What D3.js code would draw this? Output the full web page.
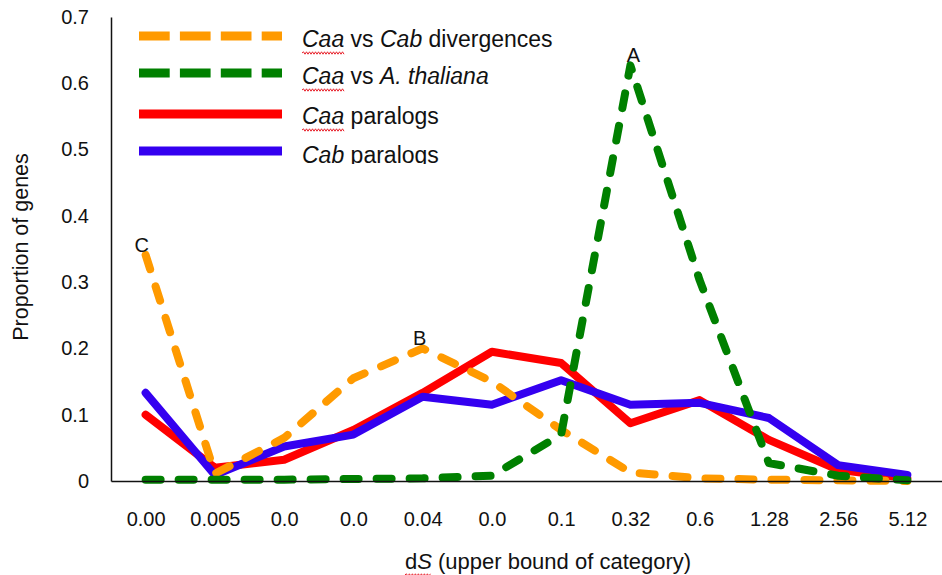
<!DOCTYPE html>
<html lang="en">
<head>
<meta charset="UTF-8">
<title>dS distribution</title>
<script src="https://d3js.org/d3.v7.min.js"></script>
<style>
  body { margin: 0; background: #fff; }
  svg { display: block; font-family: "Liberation Sans", Arial, sans-serif; }
</style>
</head>
<body>
<svg width="942" height="575"></svg>
<script>
// category labels on x (upper bound of dS class)
const categories = ["0.00", "0.005", "0.0", "0.0", "0.04", "0.0", "0.1", "0.32", "0.6", "1.28", "2.56", "5.12"];
const yTicks = [0, 0.1, 0.2, 0.3, 0.4, 0.5, 0.6, 0.7];

// values
const caaVsCab = [0.341, 0.011, 0.065, 0.155, 0.200, 0.150, 0.077, 0.013, 0.004, 0.002, 0.001, 0.000];
const caaVsAt  = [0.002, 0.002, 0.002, 0.003, 0.004, 0.008, 0.070, 0.627, 0.303, 0.027, 0.008, 0.001];
const caaPara  = [0.100, 0.020, 0.032, 0.077, 0.133, 0.195, 0.178, 0.087, 0.122, 0.062, 0.017, 0.004];
const cabPara  = [0.133, 0.009, 0.052, 0.070, 0.127, 0.115, 0.152, 0.115, 0.118, 0.095, 0.024, 0.009];

const series = [
  { name: "caaPara", values: caaPara, color: "#ff0000", dashed: false },
  { name: "cabPara", values: cabPara, color: "#3400f0", dashed: false },
  { name: "caaVsCab", values: caaVsCab, color: "#ff9a00", dashed: true },
  { name: "caaVsAt", values: caaVsAt, color: "#008000", dashed: true }
];

const svg = d3.select("svg");
const plotLeft = 111, plotRight = 942, plotTop = 17, plotBottom = 481;

const x = d3.scalePoint()
  .domain(d3.range(categories.length))
  .range([plotLeft, plotRight])
  .padding(0.5);

const y = d3.scaleLinear()
  .domain([0, 0.7])
  .range([plotBottom, plotTop]);

// lines
const line = d3.line()
  .x((d, i) => x(i))
  .y(d => y(d));

svg.append("g").selectAll("path")
  .data(series)
  .enter().append("path")
  .attr("d", d => line(d.values))
  .attr("fill", "none")
  .attr("stroke", d => d.color)
  .attr("stroke-width", 8)
  .attr("stroke-linejoin", "round")
  .attr("stroke-linecap", "round")
  .attr("stroke-dasharray", d => d.dashed ? "15,18" : null);

// axes
const yAxis = svg.append("g")
  .attr("transform", `translate(${plotLeft},0)`)
  .call(d3.axisLeft(y).tickValues(yTicks).tickSize(0).tickSizeOuter(0).tickPadding(22)
    .tickFormat(d => d === 0 ? "0" : d3.format(".1f")(d)));
yAxis.selectAll("text").attr("font-size", 20).attr("fill", "#111");
yAxis.attr("font-family", null).attr("font-size", null);
yAxis.select(".domain").attr("stroke", "#111").attr("stroke-width", 1.5);

const xAxis = svg.append("g")
  .attr("transform", `translate(0,${plotBottom})`)
  .call(d3.axisBottom(x).tickSize(0).tickSizeOuter(0).tickPadding(31)
    .tickFormat(i => categories[i]));
xAxis.selectAll("text").attr("font-size", 20).attr("fill", "#111");
xAxis.attr("font-family", null).attr("font-size", null);
xAxis.select(".domain").attr("stroke", "#111").attr("stroke-width", 1.5);

// spell-check squiggle under the first n chars of a text element
function squiggle(textSel, n) {
  const node = textSel.node();
  const a = node.getExtentOfChar(0), b = node.getExtentOfChar(n - 1);
  const x0 = a.x, x1 = b.x + b.width, yy = a.y + a.height + 1;
  let p = `M${x0},${yy}`;
  let up = true;
  for (let xx = x0 + 1.5; xx <= x1; xx += 1.5) {
    p += `L${xx},${yy + (up ? -1.2 : 1.2)}`;
    up = !up;
  }
  svg.append("path").attr("d", p).attr("fill", "none")
    .attr("stroke", "#e8202a").attr("stroke-width", 1);
}

// axis titles
svg.append("text")
  .attr("transform", "translate(28,247) rotate(-90)")
  .attr("text-anchor", "middle")
  .attr("font-size", 21.5)
  .attr("fill", "#111")
  .text("Proportion of genes");

const xt = svg.append("text")
  .attr("x", 548).attr("y", 569)
  .attr("text-anchor", "middle")
  .attr("font-size", 22)
  .attr("fill", "#111");
xt.append("tspan").text("d");
xt.append("tspan").attr("font-style", "italic").text("S");
xt.append("tspan").text(" (upper bound of category)");
squiggle(xt, 2);

// point labels
const notes = [["A", 7, caaVsAt], ["B", 4, caaVsCab], ["C", 0, caaVsCab]];
svg.append("g").selectAll("text")
  .data(notes)
  .enter().append("text")
  .attr("x", d => x(d[1]) - (d[0] === "C" ? 4 : 3) + (d[0] === "A" ? 6 : 0))
  .attr("y", d => y(d[2][d[1]]) - 3)
  .attr("text-anchor", "middle")
  .attr("font-size", 20)
  .attr("fill", "#111")
  .text(d => d[0]);

// legend (its box cuts the last entry at the bottom, as in the picture)
svg.append("clipPath").attr("id", "legclip")
  .append("rect").attr("x", 120).attr("y", 18).attr("width", 460).attr("height", 146);
const leg = svg.append("g").attr("clip-path", "url(#legclip)");
const legendItems = [
  { s: series[2], yy: 36, parts: [["Caa", true], [" vs ", false], ["Cab", true], [" divergences", false]] },
  { s: series[3], yy: 73, parts: [["Caa", true], [" vs ", false], ["A. thaliana", true]] },
  { s: series[0], yy: 114, parts: [["Caa", true], [" paralogs", false]] },
  { s: series[1], yy: 151, parts: [["Cab", true], [" paralogs", false]] }
];
legendItems.forEach(it => {
  leg.append("line")
    .attr("x1", 139).attr("x2", 282)
    .attr("y1", it.yy).attr("y2", it.yy)
    .attr("stroke", it.s.color)
    .attr("stroke-width", 9)
    .attr("stroke-dasharray", it.s.dashed ? "30.7,10.2" : null);
  const t = leg.append("text")
    .attr("x", 302).attr("y", it.yy + 11 + (it.yy === 114 ? -1 : 0) + (it.yy === 151 ? 1 : 0))
    .attr("font-size", 23)
    .attr("fill", "#111");
  it.parts.forEach(p => t.append("tspan").attr("font-style", p[1] ? "italic" : null).text(p[0]));
  if (it.parts[0][0] === "Caa") squiggle(t, 3);
});
</script>
</body>
</html>
